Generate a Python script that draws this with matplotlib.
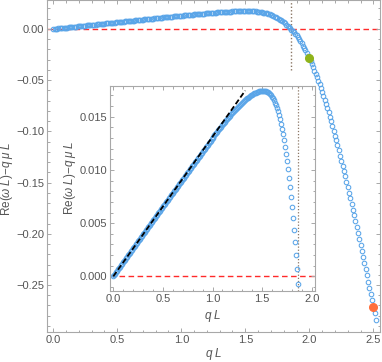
import matplotlib
matplotlib.use('Agg')
import matplotlib.pyplot as plt
from matplotlib.ticker import MultipleLocator, FuncFormatter

plt.rcParams['font.family'] = ['Liberation Sans', 'DejaVu Sans']
plt.rcParams['mathtext.fontset'] = 'custom'
plt.rcParams['mathtext.rm'] = 'Liberation Sans'
plt.rcParams['mathtext.it'] = 'Liberation Sans:italic'

# q L (step 0.01)
q = [0.00, 0.01, 0.02, 0.03, 0.04, 0.05, 0.06, 0.07, 0.08, 0.09,
     0.10, 0.11, 0.12, 0.13, 0.14, 0.15, 0.16, 0.17, 0.18, 0.19,
     0.20, 0.21, 0.22, 0.23, 0.24, 0.25, 0.26, 0.27, 0.28, 0.29,
     0.30, 0.31, 0.32, 0.33, 0.34, 0.35, 0.36, 0.37, 0.38, 0.39,
     0.40, 0.41, 0.42, 0.43, 0.44, 0.45, 0.46, 0.47, 0.48, 0.49,
     0.50, 0.51, 0.52, 0.53, 0.54, 0.55, 0.56, 0.57, 0.58, 0.59,
     0.60, 0.61, 0.62, 0.63, 0.64, 0.65, 0.66, 0.67, 0.68, 0.69,
     0.70, 0.71, 0.72, 0.73, 0.74, 0.75, 0.76, 0.77, 0.78, 0.79,
     0.80, 0.81, 0.82, 0.83, 0.84, 0.85, 0.86, 0.87, 0.88, 0.89,
     0.90, 0.91, 0.92, 0.93, 0.94, 0.95, 0.96, 0.97, 0.98, 0.99,
     1.00, 1.01, 1.02, 1.03, 1.04, 1.05, 1.06, 1.07, 1.08, 1.09,
     1.10, 1.11, 1.12, 1.13, 1.14, 1.15, 1.16, 1.17, 1.18, 1.19,
     1.20, 1.21, 1.22, 1.23, 1.24, 1.25, 1.26, 1.27, 1.28, 1.29,
     1.30, 1.31, 1.32, 1.33, 1.34, 1.35, 1.36, 1.37, 1.38, 1.39,
     1.40, 1.41, 1.42, 1.43, 1.44, 1.45, 1.46, 1.47, 1.48, 1.49,
     1.50, 1.51, 1.52, 1.53, 1.54, 1.55, 1.56, 1.57, 1.58, 1.59,
     1.60, 1.61, 1.62, 1.63, 1.64, 1.65, 1.66, 1.67, 1.68, 1.69,
     1.70, 1.71, 1.72, 1.73, 1.74, 1.75, 1.76, 1.77, 1.78, 1.79,
     1.80, 1.81, 1.82, 1.83, 1.84, 1.85, 1.86, 1.87, 1.88, 1.89,
     1.90, 1.91, 1.92, 1.93, 1.94, 1.95, 1.96, 1.97, 1.98, 1.99,
     2.00, 2.01, 2.02, 2.03, 2.04, 2.05, 2.06, 2.07, 2.08, 2.09,
     2.10, 2.11, 2.12, 2.13, 2.14, 2.15, 2.16, 2.17, 2.18, 2.19,
     2.20, 2.21, 2.22, 2.23, 2.24, 2.25, 2.26, 2.27, 2.28, 2.29,
     2.30, 2.31, 2.32, 2.33, 2.34, 2.35, 2.36, 2.37, 2.38, 2.39,
     2.40, 2.41, 2.42, 2.43, 2.44, 2.45, 2.46, 2.47, 2.48, 2.49,
     2.50, 2.51, 2.52]

# Re(w L) - q mu L
dw = [0.00000, 0.00013, 0.00026, 0.00039, 0.00053, 0.00066, 0.00079, 0.00092, 0.00105, 0.00118,
      0.00131, 0.00144, 0.00158, 0.00171, 0.00184, 0.00197, 0.00210, 0.00223, 0.00236, 0.00249,
      0.00263, 0.00276, 0.00289, 0.00302, 0.00315, 0.00328, 0.00341, 0.00355, 0.00368, 0.00381,
      0.00394, 0.00407, 0.00420, 0.00433, 0.00446, 0.00460, 0.00473, 0.00486, 0.00499, 0.00512,
      0.00525, 0.00538, 0.00551, 0.00565, 0.00578, 0.00591, 0.00604, 0.00617, 0.00630, 0.00643,
      0.00657, 0.00670, 0.00683, 0.00696, 0.00709, 0.00722, 0.00735, 0.00748, 0.00762, 0.00775,
      0.00786, 0.00799, 0.00812, 0.00825, 0.00838, 0.00851, 0.00865, 0.00878, 0.00891, 0.00903,
      0.00916, 0.00929, 0.00942, 0.00955, 0.00969, 0.00981, 0.00994, 0.01007, 0.01020, 0.01033,
      0.01046, 0.01059, 0.01071, 0.01084, 0.01097, 0.01110, 0.01123, 0.01135, 0.01148, 0.01161,
      0.01174, 0.01186, 0.01199, 0.01212, 0.01224, 0.01237, 0.01249, 0.01262, 0.01274, 0.01287,
      0.01299, 0.01311, 0.01324, 0.01336, 0.01348, 0.01360, 0.01372, 0.01384, 0.01396, 0.01408,
      0.01420, 0.01431, 0.01443, 0.01455, 0.01466, 0.01477, 0.01489, 0.01500, 0.01511, 0.01522,
      0.01533, 0.01543, 0.01554, 0.01564, 0.01575, 0.01585, 0.01594, 0.01604, 0.01614, 0.01623,
      0.01632, 0.01641, 0.01650, 0.01658, 0.01666, 0.01674, 0.01681, 0.01688, 0.01695, 0.01702,
      0.01708, 0.01713, 0.01719, 0.01724, 0.01728, 0.01732, 0.01735, 0.01738, 0.01740, 0.01741,
      0.01742, 0.01742, 0.01742, 0.01740, 0.01738, 0.01734, 0.01729, 0.01723, 0.01714, 0.01703,
      0.01690, 0.01674, 0.01655, 0.01634, 0.01609, 0.01582, 0.01550, 0.01515, 0.01476, 0.01434,
      0.01386, 0.01335, 0.01279, 0.01218, 0.01153, 0.01082, 0.01006, 0.00925, 0.00839, 0.00747,
      0.00649, 0.00545, 0.00435, 0.00319, 0.00196, 0.00067, -0.00070, -0.00190, -0.00320, -0.00468,
      -0.00624, -0.00805, -0.00996, -0.01197, -0.01408, -0.01629, -0.01860, -0.02101, -0.02352, -0.02613,
      -0.02884, -0.03165, -0.03456, -0.03757, -0.04068, -0.04389, -0.04720, -0.05061, -0.05412, -0.05773,
      -0.06144, -0.06525, -0.06916, -0.07317, -0.07728, -0.08149, -0.08580, -0.09021, -0.09472, -0.09933,
      -0.10404, -0.10883, -0.11368, -0.11859, -0.12356, -0.12859, -0.13368, -0.13883, -0.14404, -0.14931,
      -0.15464, -0.16003, -0.16546, -0.17095, -0.17648, -0.18207, -0.18770, -0.19339, -0.19912, -0.20490,
      -0.21074, -0.21662, -0.22254, -0.22850, -0.23450, -0.24054, -0.24662, -0.25274, -0.25890, -0.26510,
      -0.27134, -0.27762, -0.28394]

# small-q slope line (inset), marked points, vertical marker
lin_q = [0.0, 1.33]
lin_y = [0.0, 0.01746]
green_q, green_y = 2.0, -0.0280
orange_q, orange_y = 2.5, -0.2713
q_star = 1.86
vline_main = [-0.040, 0.030]

blue = '#5aa5e8'
red = '#ff2a2a'
dotc = '#8b7765'
gray = '#555555'
spc = '#a8a8a8'


def minus_fmt(fmt):
    return FuncFormatter(lambda v, p: (fmt % v).replace('-', '\u2212'))


def style(ax, xmaj, xmin, ymaj, ymin, xf, yf):
    ax.xaxis.set_major_locator(MultipleLocator(xmaj))
    ax.xaxis.set_minor_locator(MultipleLocator(xmin))
    ax.yaxis.set_major_locator(MultipleLocator(ymaj))
    ax.yaxis.set_minor_locator(MultipleLocator(ymin))
    ax.xaxis.set_major_formatter(minus_fmt(xf))
    ax.yaxis.set_major_formatter(minus_fmt(yf))
    ax.tick_params(which='both', direction='in', top=True, right=True,
                   color=spc, labelcolor=gray, labelsize=8, width=0.7)
    ax.tick_params(which='major', length=3.2, pad=2)
    ax.tick_params(which='minor', length=1.8)
    for s in ax.spines.values():
        s.set_color(spc)
        s.set_linewidth(0.8)


fig = plt.figure(figsize=(3.82, 3.62), dpi=100)

ax = fig.add_axes([0.1230, 0.0829, 0.8717, 0.9171])
ax.axhline(0, color=red, ls=(0, (4, 2.5)), lw=1.0, zorder=1)
ax.plot([q_star, q_star], vline_main, color=dotc, ls=(0, (1, 1.5)), lw=1.0, zorder=1)
ax.plot(q, dw, 'o', mfc='none', mec=blue, ms=3.3, mew=0.75, zorder=2)
ax.plot(green_q, green_y, 'o', color='#8fb31a', ms=5.5, zorder=3)
ax.plot(orange_q, orange_y, 'o', color='#ff6f3c', ms=5.5, zorder=3)
ax.set_xlim(-0.049, 2.552)
ax.set_ylim(-0.2959, 0.0283)
style(ax, 0.5, 0.1, 0.05, 0.01, '%.1f', '%.2f')
ax.set_xlabel(r'$q\;L$', fontsize=8.5, color=gray)
ax.xaxis.set_label_coords(0.5, -0.043)
ax.set_ylabel(r'$\mathrm{Re}(\omega\;L)\mathrm{-}q\;\mu\;L$', fontsize=8.5, color=gray)
ax.yaxis.set_label_coords(-0.095, 0.46)

ins = fig.add_axes([0.2880, 0.1961, 0.5366, 0.5663], zorder=5)
ins.set_facecolor('white')
ins.axhline(0, color=red, ls=(0, (4, 2.5)), lw=1.0, zorder=1)
ins.axvline(q_star, color=dotc, ls=(0, (1, 1.5)), lw=0.9, zorder=1)
ins.plot(q, dw, 'o', mfc='none', mec=blue, ms=3.3, mew=0.75, zorder=2)
ins.plot(lin_q, lin_y, color='black', ls=(0, (3, 1.5)), lw=1.3, zorder=3)
ins.set_xlim(-0.033, 2.033)
ins.set_ylim(-0.00138, 0.01789)
style(ins, 0.5, 0.1, 0.005, 0.001, '%.1f', '%.3f')
ins.set_xlabel(r'$q\;L$', fontsize=8.5, color=gray)
ins.xaxis.set_label_coords(0.5, -0.083)
ins.set_ylabel(r'$\mathrm{Re}(\omega\;L)\mathrm{-}q\;\mu\;L$', fontsize=8.5, color=gray)
ins.yaxis.set_label_coords(-0.156, 0.55)

plt.savefig('out.png', dpi=100)
